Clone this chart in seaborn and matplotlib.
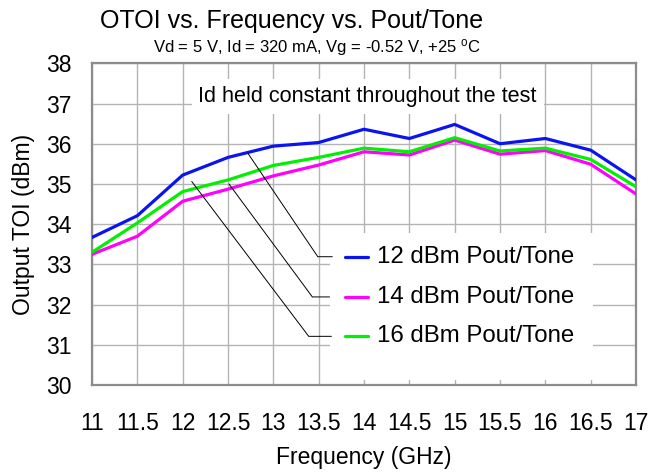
import numpy as np
import pandas as pd
import matplotlib
matplotlib.use('Agg')
import matplotlib.pyplot as plt
import seaborn as sns

# data
freq_ghz = [11, 11.5, 12, 12.5, 13, 13.5, 14, 14.5, 15, 15.5, 16, 16.5, 17]
toi_12dbm = [33.67, 34.21, 35.22, 35.66, 35.94, 36.03, 36.36, 36.13, 36.48, 36.00, 36.13, 35.84, 35.10]
toi_14dbm = [33.25, 33.70, 34.57, 34.87, 35.20, 35.47, 35.80, 35.72, 36.09, 35.74, 35.83, 35.49, 34.75]
toi_16dbm = [33.30, 34.03, 34.81, 35.10, 35.46, 35.66, 35.89, 35.80, 36.15, 35.82, 35.89, 35.61, 34.93]
series_names = ['12 dBm Pout/Tone', '14 dBm Pout/Tone', '16 dBm Pout/Tone']
series_colors = ['#0a14f0', '#ff00ff', '#00f000']
x_ticks = [11, 11.5, 12, 12.5, 13, 13.5, 14, 14.5, 15, 15.5, 16, 16.5, 17]
y_ticks = [30, 31, 32, 33, 34, 35, 36, 37, 38]

df = pd.DataFrame({
    'freq': freq_ghz * 3,
    'toi': toi_12dbm + toi_14dbm + toi_16dbm,
    'series': [s for s in series_names for _ in freq_ghz],
})

sns.set_style('white')
plt.rcParams['font.family'] = ['Liberation Sans', 'DejaVu Sans']
plt.rcParams['text.color'] = 'black'
plt.rcParams['axes.labelcolor'] = 'black'
plt.rcParams['xtick.color'] = 'black'
plt.rcParams['ytick.color'] = 'black'

fig = plt.figure(figsize=(6.49, 4.76), dpi=100)
ax = fig.add_axes([0.1418, 0.1912, 0.98 - 0.1418, 0.867 - 0.1912])

sns.lineplot(data=df, x='freq', y='toi', hue='series', hue_order=series_names,
             palette=series_colors, linewidth=2.3, legend=False, ax=ax, zorder=5)

ax.set_xlim(11, 17)
ax.set_ylim(30, 38)
ax.set_xticks(x_ticks)
ax.set_xticklabels([f'{t:g}' for t in x_ticks])
ax.set_yticks(y_ticks)
ax.grid(True, color='#b4b4b4', linewidth=1.0)
ax.set_axisbelow(True)
for sp in ax.spines.values():
    sp.set_color('#8c8c8c')
    sp.set_linewidth(1.6)
ax.tick_params(axis='x', length=0, pad=19.5, labelsize=16.5)
ax.tick_params(axis='y', length=0, pad=15, labelsize=16.5)
ax.set_xlabel('Frequency (GHz)', fontsize=16.5, labelpad=8)
ax.set_ylabel('Output TOI (dBm)', fontsize=16.5, labelpad=8)

# note box at top
ax.text(14.04, 37.18, 'Id held constant throughout the test', fontsize=15.6,
        ha='center', va='center', zorder=6,
        bbox=dict(facecolor='white', edgecolor='none', pad=5))

# white legend panel covering the grid
ax.add_patch(plt.Rectangle((13.62, 30.12), 2.9, 3.65, facecolor='white',
                           edgecolor='none', zorder=3))

# leader lines and legend entries
leaders = [
    ((12.72, 35.76), (13.49, 33.19), 13.65),
    ((12.51, 35.00), (13.43, 32.19), 13.62),
    ((12.10, 35.06), (13.39, 31.21), 13.64),
]
for (start, corner, end_x), name, color in zip(leaders, series_names, series_colors):
    ax.plot([start[0], corner[0], end_x], [start[1], corner[1], corner[1]],
            color='black', linewidth=0.7, zorder=7)
    ax.plot([13.79, 14.04], [corner[1], corner[1]], color=color, linewidth=2.3, zorder=7)
    ax.text(14.14, corner[1], name, fontsize=17.3, ha='left', va='center', zorder=7)

fig.text(0.45, 0.956, 'OTOI vs. Frequency vs. Pout/Tone', fontsize=18,
         ha='center', va='center')
fig.text(0.489, 0.901, 'Vd = 5 V, Id = 320 mA, Vg = -0.52 V, +25 $\\mathregular{^o}$C',
         fontsize=12, ha='center', va='center')

fig.savefig('out.png', dpi=100)
